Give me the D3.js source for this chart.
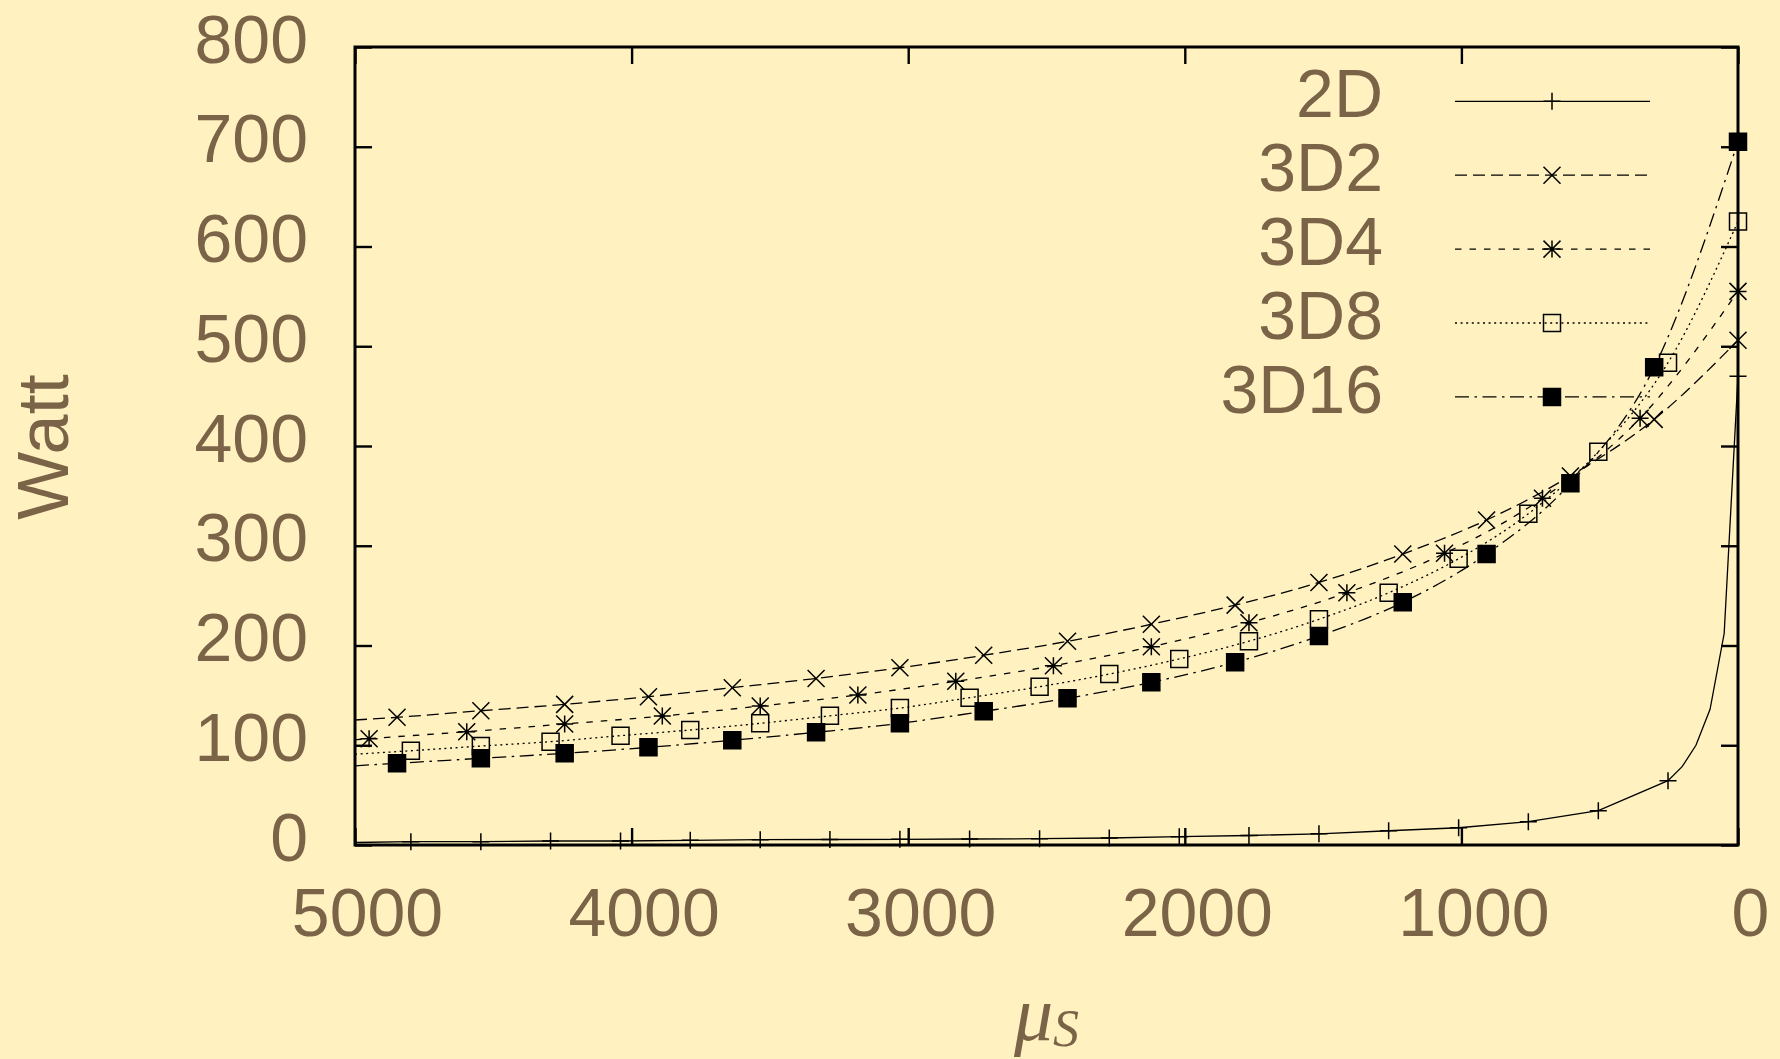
<!DOCTYPE html>
<html>
<head>
<meta charset="utf-8">
<script src="https://cdn.jsdelivr.net/npm/d3@7"></script>
<style>
  body { margin: 0; background: #fff2c0; }
  svg { display: block; }
</style>
</head>
<body>
<script>
// Series names, in legend order
var names = ["2D", "3D2", "3D4", "3D8", "3D16"];

// Marker positions (mu_S) and values (Watt)
var x2D  = [4798, 4545, 4293, 4040, 3788, 3535, 3283, 3030, 2778, 2525, 2273, 2020, 1768, 1515, 1263, 1010, 758, 505, 253, 0];
var w2D  = [3.3, 3.3, 4.0, 4.0, 4.7, 5.3, 5.5, 5.7, 6.0, 6.3, 7.0, 8.3, 9.5, 11.2, 14.3, 17.3, 23.4, 34.4, 64.5, 470];
var x3D2 = [4848, 4545, 4242, 3939, 3636, 3333, 3030, 2727, 2424, 2121, 1818, 1515, 1212, 909, 606, 303, 0];
var w3D2 = [128.0, 134.6, 141.0, 148.7, 157.7, 167.0, 177.7, 190.2, 204.2, 221.3, 240.5, 263.2, 291.7, 325.8, 370, 426.7, 506];
var x3D4 = [4949, 4596, 4242, 3889, 3535, 3182, 2828, 2475, 2121, 1768, 1414, 1061, 707, 354, 0];
var w3D4 = [106.6, 113.6, 121.3, 129.3, 139.3, 150.4, 164.1, 179.7, 198.8, 222.8, 252.9, 292.4, 347.6, 427.8, 555];
var x3D8 = [4798, 4545, 4293, 4040, 3788, 3535, 3283, 3030, 2778, 2525, 2273, 2020, 1768, 1515, 1263, 1010, 758, 505, 253, 0];
var w3D8 = [94.5, 99.2, 103.6, 109.6, 115.3, 122.0, 129.5, 137.3, 147.7, 158.7, 171.4, 186.5, 204.3, 226.3, 252.9, 287.0, 332.1, 394.3, 483.5, 625];
var x3D16 = [4848, 4545, 4242, 3939, 3636, 3333, 3030, 2727, 2424, 2121, 1818, 1515, 1212, 909, 606, 303, 0];
var w3D16 = [81.9, 86.9, 91.9, 97.9, 105.0, 113.0, 122.0, 134.0, 147.1, 163.1, 183.2, 209.5, 243.3, 291.7, 362.6, 478.9, 705];

// Line-only points: every curve starts at the left edge,
// and the 2D curve bends hard between its last two markers
var xStart = 5000;
var wStart = [2.5, 125.3, 105.5, 91.0, 79.4];
var x2DBend = [202, 152, 101, 50];
var w2DBend = [78.5, 100, 136, 212];

// Axis ticks
var xTicks = [5000, 4000, 3000, 2000, 1000, 0];
var yTicks = [0, 100, 200, 300, 400, 500, 600, 700, 800];

var xs = [x2D, x3D2, x3D4, x3D8, x3D16];
var ws = [w2D, w3D2, w3D4, w3D8, w3D16];
var markers = ["plus", "cross", "star", "box", "boxf"];
var dashes = [null, "12,6", "6.5,8", "2,3.6", "14,5.5,2.5,5.5"];

var W = 1780, H = 1059;
var margin = {top: 47, right: 42, bottom: 214, left: 355},
    width = W - margin.left - margin.right,
    height = H - margin.top - margin.bottom;

var textColor = "#7b6347";
var font = "'Liberation Sans', Arial, sans-serif";

var svg = d3.select("body").append("svg")
    .attr("width", W)
    .attr("height", H);

svg.append("rect")
    .attr("width", W)
    .attr("height", H)
    .attr("fill", "#fff2c0");

var g = svg.append("g")
    .attr("transform", "translate(" + margin.left + "," + margin.top + ")");

// x runs from 5000 on the left down to 0 on the right
var x = d3.scaleLinear().domain([5000, 0]).range([0, width]);
var y = d3.scaleLinear().domain([0, 800]).range([height, 0]);

// Axes, ticks pointing inward on all four sides
var tickLen = -17;

var xAxis = g.append("g")
    .attr("transform", "translate(0," + height + ")")
    .call(d3.axisBottom(x).tickValues(xTicks).tickFormat(d3.format("d"))
      .tickSizeInner(tickLen).tickSizeOuter(0));
xAxis.selectAll("text")
    .attr("x", 12)
    .attr("y", 91)
    .attr("dy", null);

g.append("g")
    .call(d3.axisTop(x).tickValues(xTicks).tickSizeInner(tickLen).tickSizeOuter(0).tickFormat(""));

var yAxis = g.append("g")
    .call(d3.axisLeft(y).tickValues(yTicks).tickFormat(d3.format("d"))
      .tickSizeInner(tickLen).tickSizeOuter(0).tickPadding(47));
yAxis.selectAll("text")
    .attr("dy", null)
    .attr("y", 15);

g.append("g")
    .attr("transform", "translate(" + width + ",0)")
    .call(d3.axisRight(y).tickValues(yTicks).tickSizeInner(tickLen).tickSizeOuter(0).tickFormat(""));

g.selectAll(".domain").remove();
g.selectAll(".tick line")
    .attr("stroke", "#000")
    .attr("stroke-width", 2.4);
g.selectAll(".tick text")
    .attr("fill", textColor)
    .style("font-family", font)
    .style("font-size", "68px");

// Marker shapes, centred on (0,0)
var s = 8.5;
function markerPath(type) {
  var plus = "M" + (-s) + ",0H" + s + "M0," + (-s) + "V" + s;
  var cross = "M" + (-s) + "," + (-s) + "L" + s + "," + s + "M" + (-s) + "," + s + "L" + s + "," + (-s);
  if (type === "plus") return plus;
  if (type === "cross") return cross;
  if (type === "star") return plus + cross;
  return "M" + (-s) + "," + (-s) + "H" + s + "V" + s + "H" + (-s) + "Z";
}

function drawMarker(sel, type) {
  sel.append("path")
      .attr("d", markerPath(type))
      .attr("fill", type === "boxf" ? "#000" : "none")
      .attr("stroke", "#000")
      .attr("stroke-width", 1.5);
}

// Curves
var line = d3.line()
    .x(function(d) { return x(d[0]); })
    .y(function(d) { return y(d[1]); });

names.forEach(function(name, i) {
  var marks = xs[i].map(function(v, j) { return [v, ws[i][j]]; });
  var pts = [[xStart, wStart[i]]].concat(marks);
  if (i === 0) {
    pts = pts.concat(x2DBend.map(function(v, j) { return [v, w2DBend[j]]; }));
  }
  pts.sort(function(a, b) { return b[0] - a[0]; });

  line.curve(i === 0 ? d3.curveLinear : d3.curveMonotoneX);

  g.append("path")
      .datum(pts)
      .attr("d", line)
      .attr("fill", "none")
      .attr("stroke", "#000")
      .attr("stroke-width", 1.3)
      .attr("stroke-dasharray", dashes[i]);

  g.selectAll(".m" + i)
    .data(marks)
    .enter().append("g")
      .attr("class", "m" + i)
      .attr("transform", function(d) { return "translate(" + x(d[0]) + "," + y(d[1]) + ")"; })
      .each(function() { drawMarker(d3.select(this), markers[i]); });
});

// Frame
g.append("rect")
    .attr("width", width)
    .attr("height", height)
    .attr("fill", "none")
    .attr("stroke", "#000")
    .attr("stroke-width", 3);

// Legend
var legend = svg.append("g");
names.forEach(function(name, i) {
  var ly = 101.3 + i * 73.9;
  legend.append("text")
      .attr("x", 1383)
      .attr("y", ly + 16)
      .attr("text-anchor", "end")
      .attr("fill", textColor)
      .style("font-family", font)
      .style("font-size", "68px")
      .text(name);
  legend.append("line")
      .attr("x1", 1455).attr("x2", 1650)
      .attr("y1", ly).attr("y2", ly)
      .attr("stroke", "#000")
      .attr("stroke-width", 1.3)
      .attr("stroke-dasharray", dashes[i]);
  legend.append("g")
      .attr("transform", "translate(1552," + ly + ")")
      .call(drawMarker, markers[i]);
});

// y-axis label
svg.append("text")
    .attr("transform", "translate(68,447) rotate(-90)")
    .attr("text-anchor", "middle")
    .attr("fill", textColor)
    .style("font-family", font)
    .style("font-size", "72px")
    .text("Watt");

// x-axis label: mu_S
var xl = svg.append("text")
    .attr("x", margin.left + width / 2)
    .attr("y", 1040)
    .attr("text-anchor", "middle")
    .attr("fill", textColor)
    .style("font-family", "'Liberation Serif', 'DejaVu Serif', serif")
    .style("font-style", "italic");
xl.append("tspan").style("font-size", "78px").text("μ");
xl.append("tspan").style("font-size", "52px").attr("dy", 6).text("S");
</script>
</body>
</html>
